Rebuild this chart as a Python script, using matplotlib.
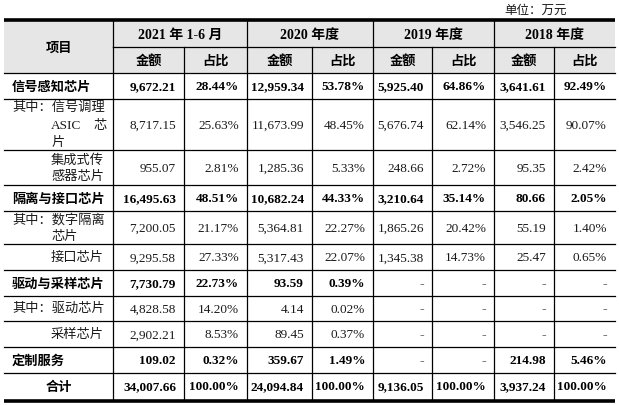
import matplotlib.pyplot as plt

# 数据（万元）
labels = ['信号感知芯片', '其中：信号调理ASIC芯片', '集成式传感器芯片', '隔离与接口芯片',
          '其中：数字隔离芯片', '接口芯片', '驱动与采样芯片', '其中：驱动芯片', '采样芯片',
          '定制服务', '合计']
periods = ['2021 年 1-6 月', '2020 年度', '2019 年度', '2018 年度']
amt_2021 = [9672.21, 8717.15, 955.07, 16495.63, 7200.05, 9295.58, 7730.79, 4828.58, 2902.21, 109.02, 34007.66]
pct_2021 = [28.44, 25.63, 2.81, 48.51, 21.17, 27.33, 22.73, 14.20, 8.53, 0.32, 100.00]
amt_2020 = [12959.34, 11673.99, 1285.36, 10682.24, 5364.81, 5317.43, 93.59, 4.14, 89.45, 359.67, 24094.84]
pct_2020 = [53.78, 48.45, 5.33, 44.33, 22.27, 22.07, 0.39, 0.02, 0.37, 1.49, 100.00]
amt_2019 = [5925.40, 5676.74, 248.66, 3210.64, 1865.26, 1345.38, None, None, None, None, 9136.05]
pct_2019 = [64.86, 62.14, 2.72, 35.14, 20.42, 14.73, None, None, None, None, 100.00]
amt_2018 = [3641.61, 3546.25, 95.35, 80.66, 55.19, 25.47, None, None, None, 214.98, 3937.24]
pct_2018 = [92.49, 90.07, 2.42, 2.05, 1.40, 0.65, None, None, None, 5.46, 100.00]
bold_rows = [0, 3, 6, 9, 10]

columns = [(amt_2021, False), (pct_2021, True), (amt_2020, False), (pct_2020, True),
           (amt_2019, False), (pct_2019, True), (amt_2018, False), (pct_2018, True)]

# 版式（像素）
W, H = 619, 406
col_x = [4, 113, 184, 247, 312, 373, 432, 494, 554, 615]
row_y = [22, 48, 74, 100, 151, 186, 212, 245, 271, 297, 322, 348, 374, 400]
# 每行项目名的换行位置: (文字, x, y, 对齐)
label_lines = {
    0: [('信号感知芯片', 12, 87, 'left')],
    1: [('其中：信号调理', 12, 108, 'left'), ('ASIC', 51, 126, 'left'),
        ('芯', 107, 126, 'right'), ('片', 51, 143, 'left')],
    2: [('集成式传', 51, 161, 'left'), ('感器芯片', 51, 177, 'left')],
    3: [('隔离与接口芯片', 12, 199, 'left')],
    4: [('其中：数字隔离', 12, 220, 'left'), ('芯片', 51, 237, 'left')],
    5: [('接口芯片', 51, 258, 'left')],
    6: [('驱动与采样芯片', 12, 284, 'left')],
    7: [('其中：驱动芯片', 12, 309, 'left')],
    8: [('采样芯片', 51, 335, 'left')],
    9: [('定制服务', 12, 361, 'left')],
    10: [('合计', 58.5, 387, 'center')],
}

SERIF = ['Liberation Serif', 'Noto Sans CJK SC']
CJK = ['Noto Sans CJK SC', 'Liberation Serif']
TXT = '#1a1a1a'

fig = plt.figure(figsize=(6.19, 4.06), dpi=100)
ax = fig.add_axes([0, 0, 1, 1])
ax.set_xlim(0, W)
ax.set_ylim(H, 0)
ax.axis('off')

# 表头底色
ax.fill_between([col_x[0], col_x[-1]], row_y[0], row_y[2], color='#e7e6e6', lw=0)

# 线条
ax.plot([col_x[0], col_x[-1]], [20.5, 20.5], color='black', lw=2.6, solid_capstyle='butt')
ax.plot([col_x[0], col_x[-1]], [402, 402], color='black', lw=2.6, solid_capstyle='butt')
ax.plot([col_x[1], col_x[-1]], [row_y[1]] * 2, color='black', lw=0.9)
for y in row_y[2:-1]:
    ax.plot([col_x[0], col_x[-1]], [y, y], color='black', lw=0.9)
for x in [col_x[1], col_x[3], col_x[5], col_x[7]]:
    ax.plot([x, x], [row_y[0], row_y[1]], color='black', lw=0.9)
for x in col_x[1:-1]:
    ax.plot([x, x], [row_y[1], row_y[-1]], color='black', lw=0.9)

# 表头文字
ax.text((col_x[0] + col_x[1]) / 2, (row_y[0] + row_y[2]) / 2, '项目', family=CJK,
        weight='bold', fontsize=9.5, ha='center', va='center', color='black')
for i, p in enumerate(periods):
    xm = (col_x[1 + 2 * i] + col_x[3 + 2 * i]) / 2
    ax.text(xm, (row_y[0] + row_y[1]) / 2, p, family=SERIF, weight='bold',
            fontsize=10, ha='center', va='center', color='black')
    for j, s in enumerate(['金额', '占比']):
        xc = (col_x[1 + 2 * i + j] + col_x[2 + 2 * i + j]) / 2
        ax.text(xc, (row_y[1] + row_y[2]) / 2, s, family=CJK, weight='bold',
                fontsize=9.5, ha='center', va='center', color='black')

ax.text(567, 10, '单位：万元', family=CJK, fontsize=9, ha='right', va='center', color=TXT)

# 项目名
for r, lines in label_lines.items():
    b = r in bold_rows
    for s, x, y, ha in lines:
        ax.text(x, y, s, family=CJK if b else SERIF, weight='bold' if b else 'normal',
                fontsize=9.5, ha=ha, va='center', color='black' if b else TXT)

# 数值
for c, (vals, is_pct) in enumerate(columns):
    xr = col_x[c + 2] - 8
    for r, v in enumerate(vals):
        ym = (row_y[r + 2] + row_y[r + 3]) / 2
        b = r in bold_rows
        if v is None:
            ax.text(xr, ym + 0.5, '-', family=SERIF, weight='bold', fontsize=10,
                    ha='right', va='center', color='#555555')
            continue
        s = f'{v:.2f}%' if is_pct else f'{v:,.2f}'
        ax.text(xr, ym + 0.5, s, family=SERIF, weight='bold' if b else 'normal',
                fontsize=9.5, ha='right', va='center', color='black' if b else TXT)

plt.savefig('out.png', dpi=100)
